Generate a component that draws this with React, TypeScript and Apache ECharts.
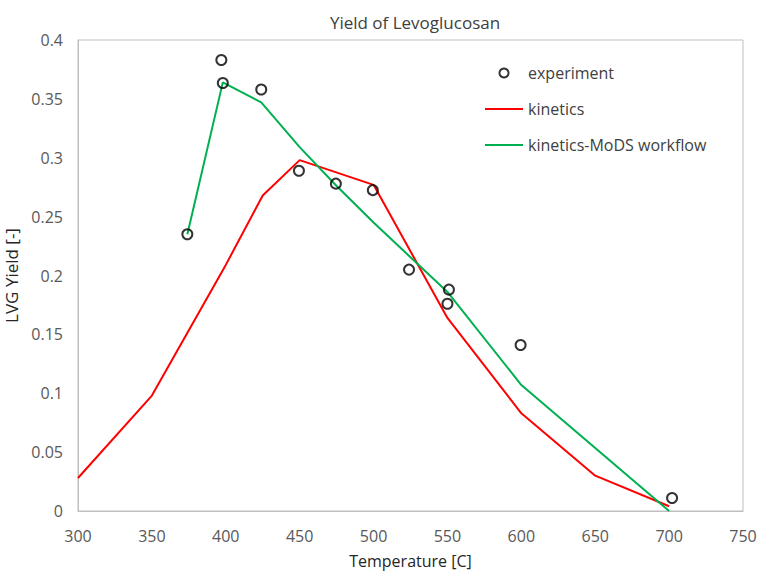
import React, { useEffect, useRef } from "react";
import * as echarts from "echarts";

const expX = [374, 397, 398, 424, 449.5, 474.5, 499.5, 524, 551, 550, 599.5, 702];
const expY = [0.235, 0.383, 0.3635, 0.358, 0.289, 0.278, 0.2725, 0.205, 0.188, 0.176, 0.141, 0.011];

const kinX = [300, 350, 400, 425, 450, 500, 550, 600, 650, 700];
const kinY = [0.028, 0.098, 0.209, 0.268, 0.298, 0.277, 0.164, 0.083, 0.03, 0.004];

const modsX = [374, 398, 424, 450, 475, 500, 550, 600, 700];
const modsY = [0.235, 0.364, 0.347, 0.309, 0.276, 0.245, 0.186, 0.107, 0.0];

const xTicks = { min: 300, max: 750, interval: 50 };
const yTicks = { min: 0, max: 0.4, interval: 0.05 };

const FONT = "Open Sans";
const LINE_ICON = "path://M0,0 H38 V2 H0 Z";
const RING_ICON =
  "path://M5,0 A5,5 0 1 1 4.99,0 Z M5,1.8 A3.2,3.2 0 1 0 5.01,1.8 Z";

export default function App() {
  const ref = useRef<HTMLDivElement>(null);
  useEffect(() => {
    if (!ref.current) return;
    const chart = echarts.init(ref.current, null, { renderer: "svg" });
    chart.setOption({
      animation: false,
      backgroundColor: "#ffffff",
      textStyle: { fontFamily: FONT },
      title: {
        text: "Yield of Levoglucosan",
        left: 410,
        top: 9,
        textAlign: "center",
        textStyle: { fontFamily: FONT, fontSize: 17, fontWeight: "normal", color: "#404040" },
      },
      grid: {
        left: 78,
        top: 40,
        right: 16,
        bottom: 62,
        show: true,
        borderColor: "#bfbfbf",
        borderWidth: 1,
        containLabel: false,
        outerBoundsMode: "none",
      },
      legend: {
        orient: "vertical",
        left: 480,
        top: 60,
        itemWidth: 38,
        itemHeight: 11,
        itemGap: 20,
        textStyle: { fontFamily: FONT, fontSize: 16, lineHeight: 16, color: "#404040" },
        data: [
          { name: "experiment", icon: RING_ICON, itemStyle: { color: "#000000", borderWidth: 0 } },
          { name: "kinetics", icon: LINE_ICON, itemStyle: { color: "#ff0000" } },
          { name: "kinetics-MoDS workflow", icon: LINE_ICON, itemStyle: { color: "#00b050" } },
        ],
      },
      xAxis: {
        type: "value",
        ...xTicks,
        name: "Temperature [C]",
        nameLocation: "middle",
        nameGap: 41,
        nameTextStyle: { fontFamily: FONT, fontSize: 16, lineHeight: 18, color: "#262626" },
        axisLine: { show: true, lineStyle: { color: "#bfbfbf" } },
        axisTick: { show: false },
        splitLine: { show: false },
        axisLabel: { margin: 17, fontFamily: FONT, fontSize: 16, color: "#595959" },
      },
      yAxis: {
        type: "value",
        ...yTicks,
        name: "LVG Yield [-]",
        nameLocation: "middle",
        nameGap: 51,
        nameTextStyle: { fontFamily: FONT, fontSize: 17, color: "#262626" },
        axisLine: { show: true, lineStyle: { color: "#bfbfbf" } },
        axisTick: { show: false },
        splitLine: { show: false },
        axisLabel: {
          margin: 15,
          fontFamily: FONT,
          fontSize: 16,
          color: "#595959",
          formatter: (v: number) => String(+v.toFixed(2)),
        },
      },
      series: [
        {
          name: "kinetics",
          type: "line",
          data: kinX.map((x, i) => [x, kinY[i]]),
          symbol: "none",
          lineStyle: { color: "#ff0000", width: 2 },
          itemStyle: { color: "#ff0000" },
          z: 2,
        },
        {
          name: "kinetics-MoDS workflow",
          type: "line",
          data: modsX.map((x, i) => [x, modsY[i]]),
          symbol: "none",
          lineStyle: { color: "#00b050", width: 2 },
          itemStyle: { color: "#00b050" },
          z: 3,
        },
        {
          name: "experiment",
          type: "scatter",
          data: expX.map((x, i) => [x, expY[i]]),
          symbol: "circle",
          symbolSize: 10,
          itemStyle: { color: "rgba(0,0,0,0)", borderColor: "#000000", borderWidth: 2 },
          z: 4,
        },
      ],
    });
    return () => chart.dispose();
  }, []);
  return <div ref={ref} style={{ width: 759, height: 573, position: "absolute", left: 0, top: 0 }} />;
}
